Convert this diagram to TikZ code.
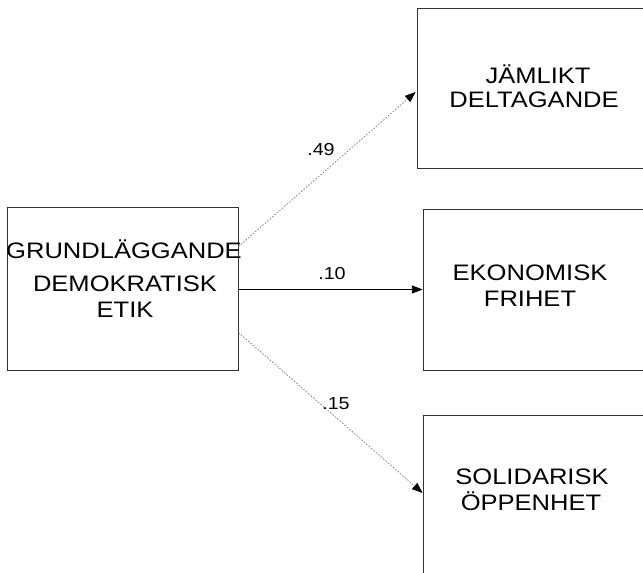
\documentclass[tikz,border=0pt]{standalone}
\usepackage{fontspec}
\setmainfont[FakeStretch=1.14]{Liberation Sans}
\usetikzlibrary{arrows.meta,calc}
\begin{document}
\begin{tikzpicture}[x=0.75pt,y=-0.75pt,
  box/.style={draw=black!80,line width=0.6pt,rectangle,inner sep=0pt},
  txt/.style={anchor=base,inner sep=0pt,font=\fontsize{16.8}{20}\selectfont},
  coef/.style={anchor=base,inner sep=0pt,font=\fontsize{13}{15}\selectfont},
  path/.style={-{Triangle[length=8pt,width=6pt,color=black]}},
  weak/.style={path,draw=black!55,line width=0.5pt,dash pattern=on 1.2pt off 1.2pt},
  strong/.style={path,draw=black,line width=0.6pt}]
\useasboundingbox (0,0) rectangle (643,573);
\begin{scope}
\clip (0,0) rectangle (643,573);
% boxes
\node[box,minimum width=173.25pt,minimum height=122.25pt] (L) at (122.5,288.5) {};
\node[box,minimum width=186pt,minimum height=120pt] (T) at (541,88) {};
\node[box,minimum width=181.5pt,minimum height=120.75pt] (M) at (544,289.5) {};
\node[box,minimum width=181.5pt,minimum height=127.5pt] (B) at (544,500) {};
\end{scope}
% box texts
\node[txt] (l1) at (124,259) {GRUNDLÄGGANDE};
\node[txt] (l2) at (125,292) {DEMOKRATISK};
\node[txt] (l3) at (125,318) {ETIK};
\node[txt] (t1) at (538,84) {JÄMLIKT};
\node[txt] (t2) at (534,108) {DELTAGANDE};
\node[txt] (m1) at (530,281) {EKONOMISK};
\node[txt] (m2) at (530,307) {FRIHET};
\node[txt] (b1) at (532,485) {SOLIDARISK};
\node[txt] (b2) at (531,511) {ÖPPENHET};
% paths
\draw[weak] ($(L.north east)+(0,40)$) -- ($(T.west)+(-1,4)$);
\draw[strong] (L.east |- M.west) -- (M.west);
\draw[weak] ($(L.south east)+(0,-38)$) -- ($(B.west)+(0,-7)$);
% coefficients
\node[coef] (c1) at (321,156) {.49};
\node[coef] (c2) at (332,280) {.10};
\node[coef] (c3) at (336,410) {.15};
\end{tikzpicture}
\end{document}
